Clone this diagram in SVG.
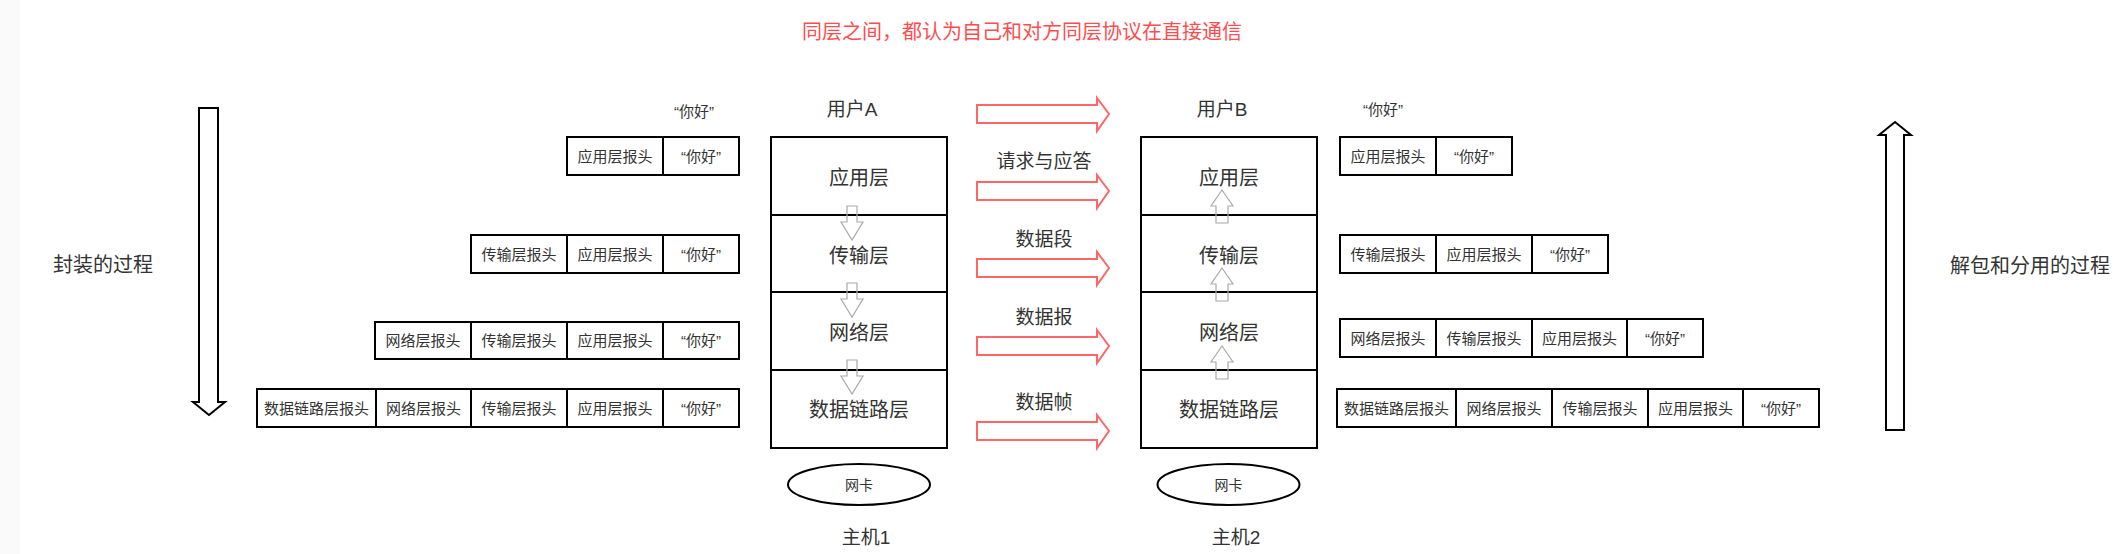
<svg xmlns="http://www.w3.org/2000/svg" width="2123" height="554" viewBox="0 0 2123 554">
<style>
text{font-family:"Liberation Sans","Noto Sans CJK SC",sans-serif;fill:#333;text-anchor:middle;dominant-baseline:central}
.cell{fill:#fff;stroke:#000;stroke-width:2}
.ct{font-size:15px}
.lt{font-size:20px}
.lbl{font-size:19px}
.red{fill:#fff;stroke:#ff6666;stroke-width:2}
.big{fill:#fff;stroke:#000;stroke-width:2}
.small{fill:none;stroke:#aaa;stroke-width:1.2}
</style>
<defs>
<path id="ra" d="M977,105 H1097 V98 L1109,114 L1097,131 V123 H977 Z"/>
<path id="da" d="M847,206 H857 V222 H863 L852,240 L841,222 H847 Z"/>
<path id="ua" d="M1222,190 L1233,206 H1228 V223 H1216 V206 H1211 Z"/>
</defs>
<rect x="0" y="0" width="20" height="554" fill="#fafafa"/>
<text x="1022" y="30" style="font-size:20px;fill:#ff4d4f;font-family:'Noto Sans CJK SC',sans-serif">同层之间，都认为自己和对方同层协议在直接通信</text>

<g id="encap-arrow">
<path class="big" d="M199,108 H218 V402 H225 L209,415 L193,402 H199 Z"/>
<text class="lt" x="103" y="265">封装的过程</text>
</g>
<g id="decap-arrow">
<path class="big" d="M1895,122 L1911,135 H1904 V430 H1886 V135 H1879 Z"/>
<text class="lt" x="2030" y="266">解包和分用的过程</text>
</g>

<g id="hostA">
<text class="lbl" x="852" y="109">用户A</text>
<rect class="cell" x="771" y="137" width="176" height="78"/>
<rect class="cell" x="771" y="215" width="176" height="77"/>
<rect class="cell" x="771" y="292" width="176" height="78"/>
<rect class="cell" x="771" y="370" width="176" height="78"/>
<text class="lt" x="859" y="178">应用层</text>
<text class="lt" x="859" y="256">传输层</text>
<text class="lt" x="859" y="333">网络层</text>
<text class="lt" x="859" y="410">数据链路层</text>
<use href="#da" class="small"/>
<use href="#da" class="small" y="77"/>
<use href="#da" class="small" y="154"/>
<ellipse cx="859" cy="484.5" rx="71" ry="20.5" fill="#fff" stroke="#000" stroke-width="2"/>
<text x="859" y="484.5" style="font-size:14px">网卡</text>
<text class="lbl" x="866" y="537">主机1</text>
</g>

<g id="hostB">
<text class="lbl" x="1222" y="109">用户B</text>
<rect class="cell" x="1141" y="137" width="176" height="78"/>
<rect class="cell" x="1141" y="215" width="176" height="77"/>
<rect class="cell" x="1141" y="292" width="176" height="78"/>
<rect class="cell" x="1141" y="370" width="176" height="78"/>
<text class="lt" x="1229" y="178">应用层</text>
<text class="lt" x="1229" y="256">传输层</text>
<text class="lt" x="1229" y="333">网络层</text>
<text class="lt" x="1229" y="410">数据链路层</text>
<use href="#ua" class="small"/>
<use href="#ua" class="small" y="78"/>
<use href="#ua" class="small" y="156"/>
<ellipse cx="1228.5" cy="484.5" rx="71" ry="20.5" fill="#fff" stroke="#000" stroke-width="2"/>
<text x="1228.5" y="484.5" style="font-size:14px">网卡</text>
<text class="lbl" x="1236" y="537">主机2</text>
</g>

<g id="connectors">
<use href="#ra" class="red"/>
<use href="#ra" class="red" y="77"/>
<use href="#ra" class="red" y="154"/>
<use href="#ra" class="red" y="232"/>
<use href="#ra" class="red" y="317"/>
<text class="lbl" x="1044" y="161">请求与应答</text>
<text class="lbl" x="1044" y="239">数据段</text>
<text class="lbl" x="1044" y="317">数据报</text>
<text class="lbl" x="1044" y="402">数据帧</text>
</g>

<g id="packetsA">
<text class="ct" x="694" y="111">“你好”</text>
<rect class="cell" x="567" y="137" width="96" height="38"/><text class="ct" x="615" y="156">应用层报头</text>
<rect class="cell" x="663" y="137" width="76" height="38"/><text class="ct" x="701" y="156">“你好”</text>

<rect class="cell" x="471" y="235" width="96" height="38"/><text class="ct" x="519" y="254">传输层报头</text>
<rect class="cell" x="567" y="235" width="96" height="38"/><text class="ct" x="615" y="254">应用层报头</text>
<rect class="cell" x="663" y="235" width="76" height="38"/><text class="ct" x="701" y="254">“你好”</text>

<rect class="cell" x="375" y="322" width="96" height="37"/><text class="ct" x="423" y="340.5">网络层报头</text>
<rect class="cell" x="471" y="322" width="96" height="37"/><text class="ct" x="519" y="340.5">传输层报头</text>
<rect class="cell" x="567" y="322" width="96" height="37"/><text class="ct" x="615" y="340.5">应用层报头</text>
<rect class="cell" x="663" y="322" width="76" height="37"/><text class="ct" x="701" y="340.5">“你好”</text>

<rect class="cell" x="257" y="389" width="119" height="38"/><text class="ct" x="316.5" y="408">数据链路层报头</text>
<rect class="cell" x="376" y="389" width="95" height="38"/><text class="ct" x="423.5" y="408">网络层报头</text>
<rect class="cell" x="471" y="389" width="96" height="38"/><text class="ct" x="519" y="408">传输层报头</text>
<rect class="cell" x="567" y="389" width="96" height="38"/><text class="ct" x="615" y="408">应用层报头</text>
<rect class="cell" x="663" y="389" width="76" height="38"/><text class="ct" x="701" y="408">“你好”</text>
</g>

<g id="packetsB">
<text class="ct" x="1383" y="109">“你好”</text>
<rect class="cell" x="1340" y="137" width="96" height="38"/><text class="ct" x="1388" y="156">应用层报头</text>
<rect class="cell" x="1436" y="137" width="76" height="38"/><text class="ct" x="1474" y="156">“你好”</text>

<rect class="cell" x="1340" y="235" width="96" height="38"/><text class="ct" x="1388" y="254">传输层报头</text>
<rect class="cell" x="1436" y="235" width="96" height="38"/><text class="ct" x="1484" y="254">应用层报头</text>
<rect class="cell" x="1532" y="235" width="76" height="38"/><text class="ct" x="1570" y="254">“你好”</text>

<rect class="cell" x="1340" y="319" width="96" height="38"/><text class="ct" x="1388" y="338">网络层报头</text>
<rect class="cell" x="1436" y="319" width="96" height="38"/><text class="ct" x="1484" y="338">传输层报头</text>
<rect class="cell" x="1532" y="319" width="95" height="38"/><text class="ct" x="1579.5" y="338">应用层报头</text>
<rect class="cell" x="1627" y="319" width="76" height="38"/><text class="ct" x="1665" y="338">“你好”</text>

<rect class="cell" x="1337" y="389" width="119" height="38"/><text class="ct" x="1396.5" y="408">数据链路层报头</text>
<rect class="cell" x="1456" y="389" width="96" height="38"/><text class="ct" x="1504" y="408">网络层报头</text>
<rect class="cell" x="1552" y="389" width="96" height="38"/><text class="ct" x="1600" y="408">传输层报头</text>
<rect class="cell" x="1648" y="389" width="95" height="38"/><text class="ct" x="1695.5" y="408">应用层报头</text>
<rect class="cell" x="1743" y="389" width="76" height="38"/><text class="ct" x="1781" y="408">“你好”</text>
</g>
</svg>
